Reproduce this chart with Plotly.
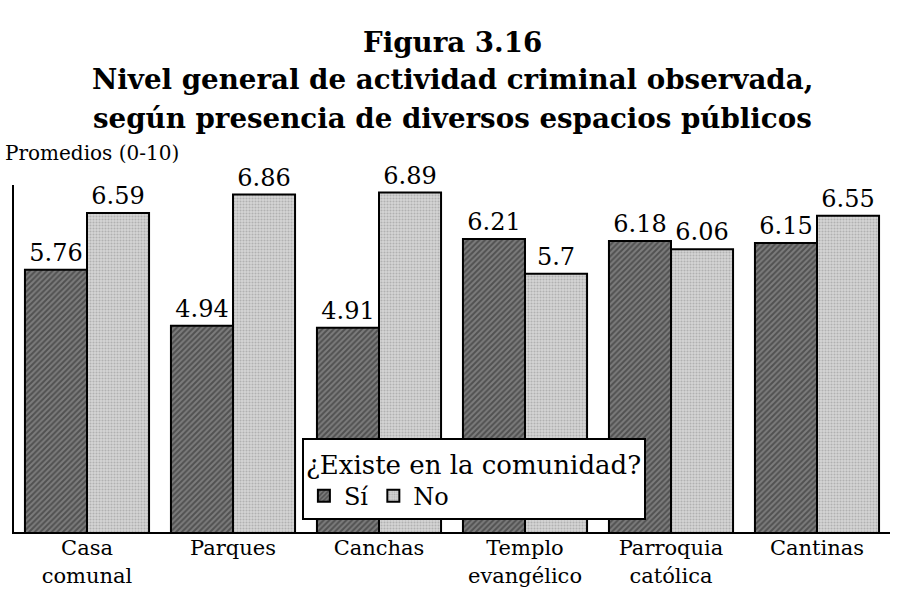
import plotly.graph_objects as go

categorias = ["Casa<br>comunal", "Parques", "Canchas", "Templo<br>evangélico",
              "Parroquia<br>católica", "Cantinas"]
si = [5.76, 4.94, 4.91, 6.21, 6.18, 6.15]
no = [6.59, 6.86, 6.89, 5.70, 6.06, 6.55]

titulo = ["Figura 3.16",
          "Nivel general de actividad criminal observada,",
          "según presencia de diversos espacios públicos"]

serif = "DejaVu Serif"

fig = go.Figure()
fig.add_trace(go.Bar(
    x=categorias, y=si, name="Sí",
    text=[f"{v:g}" for v in si], textposition="outside", cliponaxis=False,
    textfont=dict(size=24, color="black", family=serif),
    marker=dict(color="#5e5e5e", line=dict(color="black", width=2),
                pattern=dict(shape="/", fgcolor="#262626", bgcolor="#7c7c7c",
                             size=4, solidity=0.5)),
))
fig.add_trace(go.Bar(
    x=categorias, y=no, name="No",
    text=[f"{v:g}" for v in no], textposition="outside", cliponaxis=False,
    textfont=dict(size=24, color="black", family=serif),
    marker=dict(color="#c4c4c4", line=dict(color="black", width=2),
                pattern=dict(shape=".", fgcolor="#8c8c8c", bgcolor="#d6d6d6",
                             size=3, solidity=0.4)),
))

# title lines as annotations (paper y above the plot area)
anots = []
for linea, yy in zip(titulo, [1.412, 1.303, 1.193]):
    anots.append(dict(text=f"<b>{linea}</b>", xref="paper", yref="paper",
                      x=0.5, y=yy, xanchor="center", yanchor="middle",
                      showarrow=False, font=dict(size=27.7, family=serif)))
anots.append(dict(
    text="Promedios (0-10)", xref="paper", yref="paper",
    x=-0.012, y=1.092, xanchor="left", yanchor="middle", showarrow=False,
    font=dict(size=20, family=serif),
))

fig.update_layout(
    width=900, height=592,
    margin=dict(l=14, r=10, t=185, b=60),
    plot_bgcolor="white", paper_bgcolor="white",
    barmode="group", bargap=0.15, bargroupgap=0,
    font=dict(family=serif, size=20, color="black"),
    legend=dict(
        title=dict(text="¿Existe en la comunidad?", side="top",
                   font=dict(size=26)),
        orientation="h", x=0.525, xanchor="center", y=0.035, yanchor="bottom",
        bgcolor="white", bordercolor="black", borderwidth=2,
        font=dict(size=24), itemwidth=30, tracegroupgap=0,
    ),
    annotations=anots,
)
fig.update_yaxes(range=[1.92, 7.0], showgrid=False, showticklabels=False,
                 showline=True, linecolor="black", linewidth=2, zeroline=False,
                 automargin=False)
fig.update_xaxes(showline=True, linecolor="black", linewidth=2, ticks="",
                 tickfont=dict(size=21), automargin=False,
                 ticklabelstandoff=-4)

# drop the default page margin so the figure sits at the window corner
fig.write_html("out.html", config={"displayModeBar": False},
               post_script="document.body.style.margin='0';")
